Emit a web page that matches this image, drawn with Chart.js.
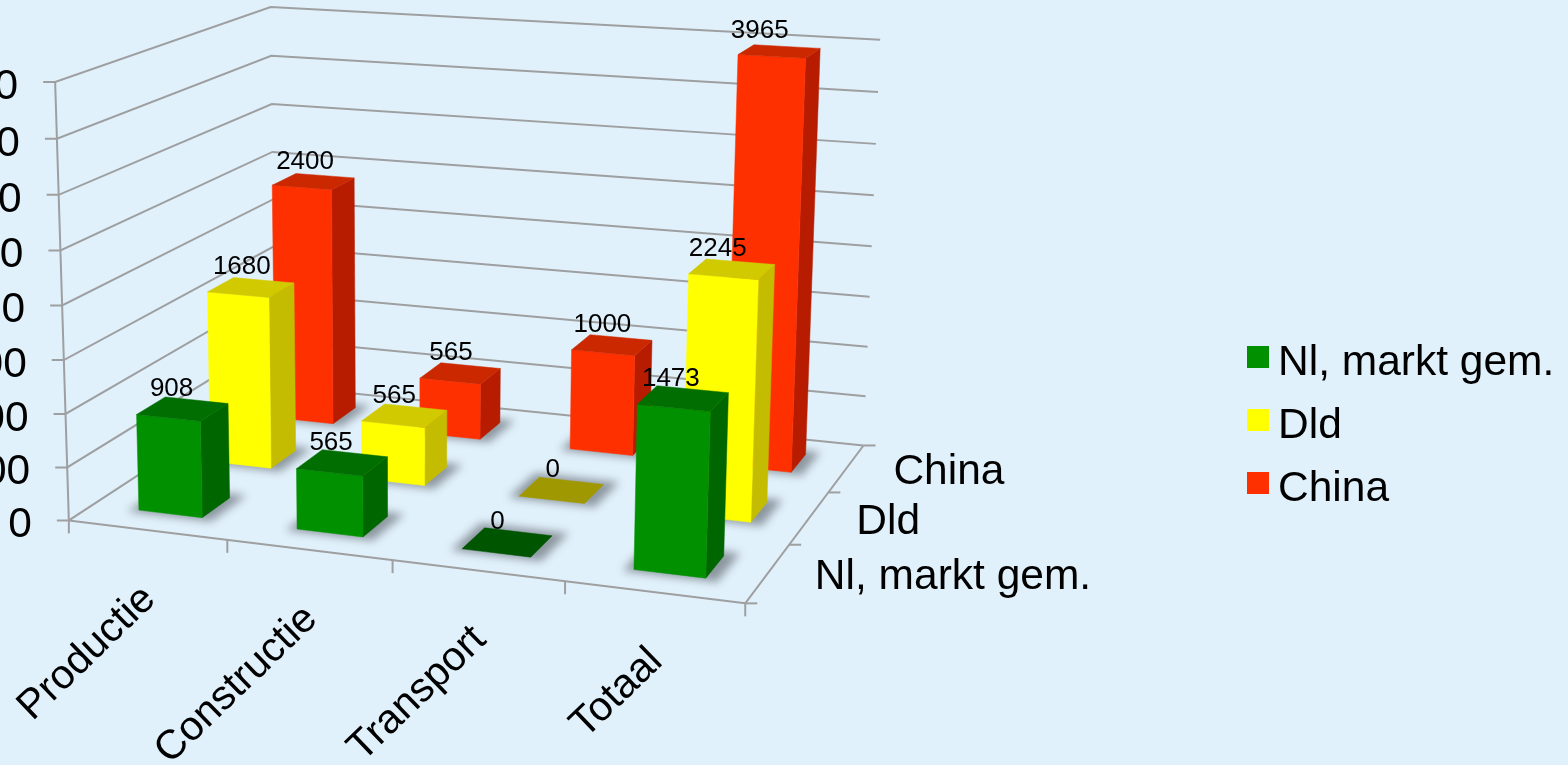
<!DOCTYPE html>
<html>
<head>
<meta charset="utf-8">
<title>Kosten per land</title>
<script src="https://cdn.jsdelivr.net/npm/chart.js@4/dist/chart.umd.js"></script>
<style>
  html, body { margin: 0; padding: 0; background: #e1f1fb; overflow: hidden; }
  canvas { display: block; }
</style>
</head>
<body>
<canvas id="costChart" width="1568" height="765"></canvas>
<script>
// Chart data
const categories = ['Productie', 'Constructie', 'Transport', 'Totaal'];
const seriesNames = ['Nl, markt gem.', 'Dld', 'China'];
const nlValues = [908, 565, 0, 1473];
const dldValues = [1680, 565, 0, 2245];
const chinaValues = [2400, 565, 1000, 3965];
const valueTicks = [0, 500, 1000, 1500, 2000, 2500, 3000, 3500, 4000];

// Face colours per series: front, side, top, flat (zero height)
const palette = [
  { front: '#009000', side: '#006600', top: '#006e00', flat: '#005500' },
  { front: '#ffff00', side: '#c4bc00', top: '#d2ca00', flat: '#a09800' },
  { front: '#ff3000', side: '#b81c00', top: '#cc2800', flat: '#cc2800' }
];

const FONT = '"Liberation Sans", Arial, sans-serif';
const GRID_COLOR = '#9e9fa1';
const BAR_DEPTH = 0.385; // share of a series band taken up by the bar

// Box corners on screen as [u, v, h, x, y], used to solve the perspective
const frameAnchors = [
  [0, 0, 0, 71, 518], [0, 0, 1, 53, 83], [0, 0, 0.5, 62, 305],
  [0, 1, 1, 273, 6], [0, 1, 0, 273, 390], [0, 1, 0.5, 273, 198],
  [1, 1, 1, 880, 41], [1, 1, 0, 863, 443], [1, 1, 0.5, 871, 246],
  [1, 0, 0, 745, 605], [0.25, 0, 0, 228, 538], [0.5, 0, 0, 392, 561],
  [0.75, 0, 0, 564, 583], [1, 1 / 3, 0, 790, 545], [1, 2 / 3, 0, 830, 491]
];

// Least squares fit of a 3x4 projection matrix (last entry fixed at 1)
function solveProjection(anchors) {
  const n = 11;
  const A = Array.from({ length: n }, () => new Array(n + 1).fill(0));
  const addRow = (row, rhs) => {
    for (let i = 0; i < n; i++) {
      for (let j = 0; j < n; j++) A[i][j] += row[i] * row[j];
      A[i][n] += row[i] * rhs;
    }
  };
  anchors.forEach(([u, v, h, x, y]) => {
    addRow([u, v, h, 1, 0, 0, 0, 0, -x * u, -x * v, -x * h], x);
    addRow([0, 0, 0, 0, u, v, h, 1, -y * u, -y * v, -y * h], y);
  });
  for (let c = 0; c < n; c++) {
    let pivot = c;
    for (let r = c + 1; r < n; r++) {
      if (Math.abs(A[r][c]) > Math.abs(A[pivot][c])) pivot = r;
    }
    [A[c], A[pivot]] = [A[pivot], A[c]];
    for (let r = 0; r < n; r++) {
      if (r === c) continue;
      const f = A[r][c] / A[c][c];
      for (let k = c; k <= n; k++) A[r][k] -= f * A[c][k];
    }
  }
  return A.map((row, i) => row[n] / row[i]);
}

const m = solveProjection(frameAnchors);

// u along categories, v into the depth, h up the value axis (all 0..1)
function project(u, v, h) {
  const w = m[8] * u + m[9] * v + m[10] * h + 1;
  return {
    x: (m[0] * u + m[1] * v + m[2] * h + m[3]) / w,
    y: (m[4] * u + m[5] * v + m[6] * h + m[7]) / w
  };
}

function fillFace(ctx, points, color) {
  ctx.beginPath();
  points.forEach((p, i) => (i ? ctx.lineTo(p.x, p.y) : ctx.moveTo(p.x, p.y)));
  ctx.closePath();
  ctx.fillStyle = color;
  ctx.fill();
  // hairline in the same colour closes the seams between faces
  ctx.strokeStyle = color;
  ctx.lineWidth = 0.5;
  ctx.stroke();
}

function strokeLine(ctx, a, b) {
  ctx.beginPath();
  ctx.moveTo(a.x, a.y);
  ctx.lineTo(b.x, b.y);
  ctx.stroke();
}

// Turn a bar element into box coordinates using the chart's own scales
function barBox(chart, el, datasetIndex) {
  const { x: xScale, y: yScale } = chart.scales;
  const span = xScale.right - xScale.left;
  const center = (datasetIndex + 0.5) / seriesNames.length;
  const halfDepth = BAR_DEPTH / seriesNames.length / 2;
  return {
    u0: (el.x - el.width / 2 - xScale.left) / span,
    u1: (el.x + el.width / 2 - xScale.left) / span,
    v0: center - halfDepth,
    v1: center + halfDepth,
    h: (yScale.bottom - el.y) / (yScale.bottom - yScale.top)
  };
}

// Bar controller that draws every element as a box in perspective
class Bar3dController extends Chart.BarController {
  draw() {
    const ctx = this.chart.ctx;
    const colors = palette[this.index];
    const elements = this.getMeta().data;

    ctx.save();
    for (let i = elements.length - 1; i >= 0; i--) {
      const { u0, u1, v0, v1, h } = barBox(this.chart, elements[i], this.index);

      // soft shadow on the floor
      ctx.save();
      ctx.filter = 'blur(4px)';
      fillFace(ctx, [
        project(u0 - 0.012, v0 - 0.012, 0), project(u1 + 0.018, v0 - 0.012, 0),
        project(u1 + 0.018, v1 + 0.022, 0), project(u0 - 0.012, v1 + 0.022, 0)
      ], 'rgba(85, 92, 100, 0.6)');
      ctx.restore();

      const topFace = [project(u0, v0, h), project(u1, v0, h), project(u1, v1, h), project(u0, v1, h)];
      if (h === 0) {
        fillFace(ctx, topFace, colors.flat);
        continue;
      }
      fillFace(ctx, [project(u1, v0, 0), project(u1, v1, 0), project(u1, v1, h), project(u1, v0, h)], colors.side);
      fillFace(ctx, [project(u0, v0, 0), project(u1, v0, 0), project(u1, v0, h), project(u0, v0, h)], colors.front);
      fillFace(ctx, topFace, colors.top);
    }
    ctx.restore();
  }
}
Bar3dController.id = 'bar3d';
Bar3dController.defaults = Chart.BarController.defaults;
Chart.register(Bar3dController);

// Walls, floor and axis labels behind the bars
const boxAxes = {
  id: 'boxAxes',
  beforeDatasetsDraw(chart) {
    const ctx = chart.ctx;
    const yScale = chart.scales.y;
    const heightOf = value => (yScale.bottom - yScale.getPixelForValue(value)) / (yScale.bottom - yScale.top);

    ctx.save();
    ctx.strokeStyle = GRID_COLOR;
    ctx.lineWidth = 2;

    // gridlines run along the left wall and then the back wall
    yScale.ticks.forEach(tick => {
      const h = heightOf(tick.value);
      const front = project(0, 0, h);
      const corner = project(0, 1, h);
      ctx.beginPath();
      ctx.moveTo(front.x - 12, front.y);
      ctx.lineTo(front.x, front.y);
      ctx.lineTo(corner.x, corner.y);
      const back = project(1, 1, h);
      ctx.lineTo(back.x, back.y);
      ctx.stroke();
    });
    strokeLine(ctx, project(0, 0, 0), project(0, 0, 1));

    // floor edges with their tick marks
    strokeLine(ctx, project(0, 0, 0), project(1, 0, 0));
    strokeLine(ctx, project(1, 0, 0), project(1, 1, 0));
    for (let i = 0; i <= categories.length; i++) {
      const p = project(i / categories.length, 0, 0);
      strokeLine(ctx, p, { x: p.x, y: p.y + 13 });
    }
    for (let j = 0; j <= seriesNames.length; j++) {
      const p = project(1, j / seriesNames.length, 0);
      strokeLine(ctx, p, { x: p.x + 12, y: p.y });
    }

    ctx.fillStyle = '#000';
    ctx.font = '42.5px ' + FONT;

    // value labels follow the slanted axis
    ctx.textAlign = 'right';
    ctx.textBaseline = 'alphabetic';
    yScale.ticks.forEach(tick => {
      const p = project(0, 0, heightOf(tick.value));
      ctx.fillText(tick.label, p.x - 37, p.y + 17);
    });

    // series names next to the right floor edge
    ctx.textAlign = 'left';
    seriesNames.forEach((name, j) => {
      const p = project(1, (j + 0.5) / seriesNames.length, 0);
      ctx.fillText(name, p.x + 47, p.y + 16);
    });

    // category names under the front edge
    ctx.font = '41px ' + FONT;
    ctx.textAlign = 'right';
    ctx.textBaseline = 'middle';
    chart.scales.x.ticks.forEach((tick, i) => {
      const p = project((i + 0.5) / categories.length, 0, 0);
      ctx.save();
      ctx.translate(p.x + 2, p.y + 63);
      ctx.rotate(-44 * Math.PI / 180);
      ctx.fillText(tick.label, 0, 0);
      ctx.restore();
    });
    ctx.restore();
  },

  afterDatasetsDraw(chart) {
    const ctx = chart.ctx;
    ctx.save();
    ctx.fillStyle = '#000';

    // value above each bar, centred on the foot of its front face
    ctx.font = '26px ' + FONT;
    ctx.textAlign = 'center';
    ctx.textBaseline = 'alphabetic';
    chart.data.datasets.forEach((dataset, d) => {
      chart.getDatasetMeta(d).data.forEach((el, i) => {
        const { u0, u1, v0, v1, h } = barBox(chart, el, d);
        const footLeft = project(u0, v0, 0);
        const footRight = project(u1, v0, 0);
        const midY = (project(u0, v0, h).y + project(u1, v1, h).y) / 2;
        ctx.fillText(dataset.data[i], (footLeft.x + footRight.x) / 2 + 1, midY - 13);
      });
    });

    // legend on the right
    ctx.font = '42.5px ' + FONT;
    ctx.textAlign = 'left';
    chart.data.datasets.forEach((dataset, d) => {
      const top = 346 + d * 63;
      ctx.fillStyle = dataset.backgroundColor;
      ctx.fillRect(1247, top, 22, 22);
      ctx.fillStyle = '#000';
      ctx.fillText(dataset.label, 1278, top + 29);
    });
    ctx.restore();
  }
};

new Chart(document.getElementById('costChart').getContext('2d'), {
  type: 'bar3d',
  data: {
    labels: categories,
    datasets: [nlValues, dldValues, chinaValues].map((values, d) => ({
      label: seriesNames[d],
      data: values,
      backgroundColor: palette[d].front,
      barPercentage: 0.405,
      categoryPercentage: 1,
      grouped: false,
      clip: false
    }))
  },
  options: {
    responsive: false,
    animation: false,
    layout: { padding: { left: 71, right: 823, top: 83, bottom: 247 } },
    plugins: {
      legend: { display: false },
      tooltip: { enabled: false }
    },
    scales: {
      x: { display: false },
      y: {
        display: false,
        min: 0,
        max: 4000,
        afterBuildTicks: scale => {
          scale.ticks = valueTicks.map(value => ({ value }));
        },
        ticks: { callback: value => String(value) }
      }
    }
  },
  plugins: [boxAxes]
});
</script>
</body>
</html>
